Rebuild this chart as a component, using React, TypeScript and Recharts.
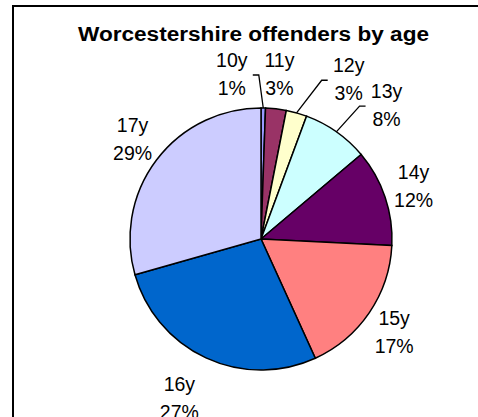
import { PieChart, Pie, Cell, Customized } from "recharts"

const ages = ["10y", "11y", "12y", "13y", "14y", "15y", "16y", "17y"]
const shares = [0.55, 2.55, 2.55, 8.2, 11.95, 17.4, 27.4, 29.4]
const colors = ["#9999FF", "#993366", "#FFFFCC", "#CCFFFF", "#660066", "#FF8080", "#0066CC", "#CCCCFF"]

const chartData = ages.map((age, i) => ({ name: age, value: shares[i] }))

// labels pushed aside to make room at the top, leader line goes back to the slice
const labelShift: Record<string, { dx: number; dy: number; leader?: boolean }> = {
  "10y": { dx: -32, dy: 1, leader: true },
  "12y": { dx: 44, dy: 0, leader: true },
  "13y": { dx: 33, dy: 2, leader: true },
  "16y": { dx: -14, dy: 8 },
}

const FONT = "Arial, 'Liberation Sans', sans-serif"
const RAD = Math.PI / 180

const renderLabel = (props: any) => {
  const { cx, cy, midAngle, outerRadius, percent, index } = props
  const name = ages[index]
  const cos = Math.cos(midAngle * RAD)
  const sin = Math.sin(midAngle * RAD)
  const r = outerRadius + 14
  const shift = labelShift[name] || { dx: 0, dy: 0 }
  const lx = cx + r * cos + 16 * cos + shift.dx
  const ly = cy - r * sin - 21 * sin + shift.dy

  let leader = null
  if (shift.leader) {
    const ax = cx + outerRadius * cos
    const ay = cy - outerRadius * sin
    const side = lx < ax ? 1 : -1
    const sx = lx + side * 21
    const hx = sx + side * 6
    leader = (
      <polyline points={`${sx},${ly + 1} ${hx},${ly + 1} ${ax},${ay}`} fill="none" stroke="#000" strokeWidth={1.3} />
    )
  }

  return (
    <g>
      {leader}
      <text x={lx} y={ly - 7} textAnchor="middle" fill="#000" fontSize={19.5} fontFamily={FONT}>
        {name}
      </text>
      <text x={lx} y={ly + 21} textAnchor="middle" fill="#000" fontSize={19.5} fontFamily={FONT}>
        {Math.round(percent * 100)}%
      </text>
    </g>
  )
}

const Title = () => (
  <text
    x={253.5}
    y={41}
    textAnchor="middle"
    fill="#000"
    fontSize={19.5}
    fontWeight="bold"
    fontFamily={FONT}
    textLength={351}
    lengthAdjust="spacingAndGlyphs"
  >
    Worcestershire offenders by age
  </text>
)

export default function App() {
  return (
    <div style={{ position: "absolute", left: 0, top: 0, width: 478, height: 417, overflow: "hidden", background: "#fff" }}>
      <div
        style={{ position: "absolute", left: 12, top: 5, width: 600, height: 600, border: "2px solid #000", boxSizing: "border-box" }}
      />
      <div style={{ position: "absolute", left: 0, top: 0 }}>
        <PieChart width={478} height={417} margin={{ top: 0, right: 0, bottom: 0, left: 0 }}>
          <Customized component={Title} />
          <Pie
            data={chartData}
            dataKey="value"
            nameKey="name"
            cx={261}
            cy={239}
            outerRadius={131}
            startAngle={90}
            endAngle={-270}
            stroke="#000"
            strokeWidth={1.5}
            label={renderLabel}
            labelLine={false}
            isAnimationActive={false}
          >
            {chartData.map((d, i) => (
              <Cell key={d.name} fill={colors[i]} />
            ))}
          </Pie>
        </PieChart>
      </div>
    </div>
  )
}
